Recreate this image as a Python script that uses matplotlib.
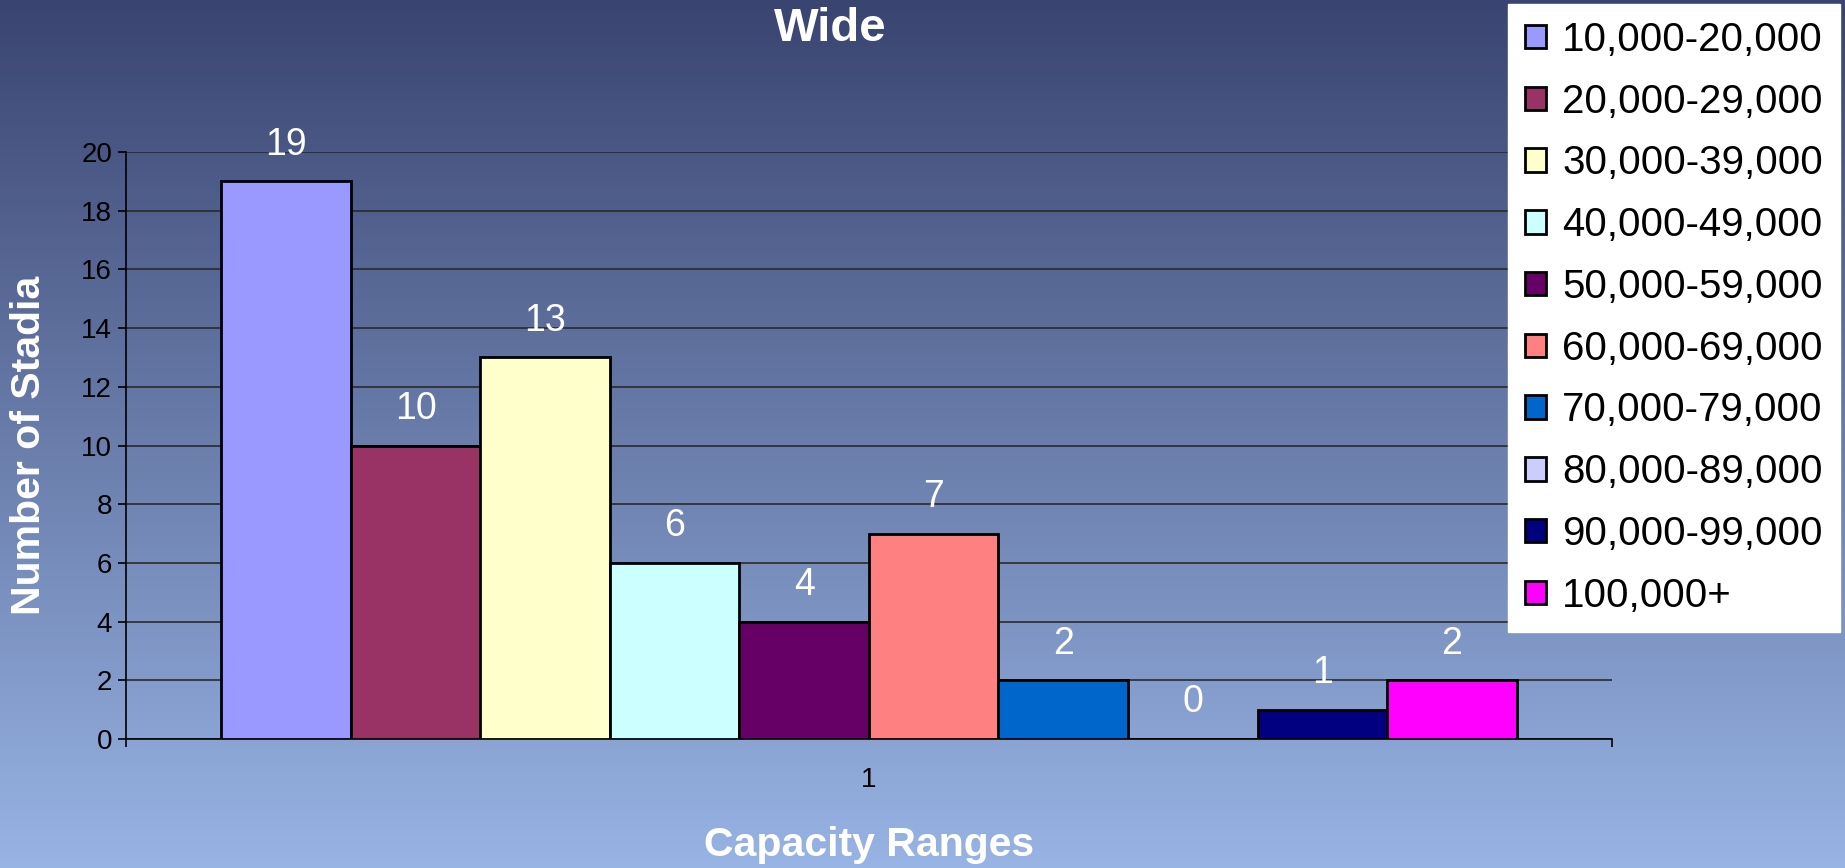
import numpy as np
import matplotlib.pyplot as plt
from matplotlib.colors import LinearSegmentedColormap

plt.rcParams['font.family'] = ['Liberation Sans', 'DejaVu Sans']

ranges = ["10,000-20,000", "20,000-29,000", "30,000-39,000", "40,000-49,000",
          "50,000-59,000", "60,000-69,000", "70,000-79,000", "80,000-89,000",
          "90,000-99,000", "100,000+"]
counts = [19, 10, 13, 6, 4, 7, 2, 0, 1, 2]
colors = ["#9999FF", "#993366", "#FFFFCC", "#CCFFFF", "#660066",
          "#FF8080", "#0066CC", "#CCCCFF", "#000080", "#FF00FF"]

fig = plt.figure(figsize=(18.45, 8.68), dpi=100)

# gradient background
bg = fig.add_axes([0, 0, 1, 1], zorder=-10)
cmap = LinearSegmentedColormap.from_list("bg", ["#98b4e4", "#3a4470"])
grad = np.linspace(0, 1, 256).reshape(-1, 1)
bg.imshow(grad, aspect='auto', cmap=cmap, origin='lower', extent=[0, 1, 0, 1])
bg.axis('off')

ax = fig.add_axes([0.0683, 0.1486, 0.8054, 0.6763])
ax.set_facecolor('none')

w = 0.8715 / len(counts)
xs = 1 + (np.arange(len(counts)) - (len(counts) - 1) / 2) * w
bars = []
for x, c, col, lab in zip(xs, counts, colors, ranges):
    b = ax.bar(x, c, width=w, color=col, edgecolor='black', linewidth=2,
               label=lab, zorder=3)
    bars.append(b)
    ax.annotate(str(c), (x, c), xytext=(0, 26.5), textcoords='offset points',
                ha='center', va='center', color='white', fontsize=27, zorder=4)

ax.set_xlim(0.5, 1.5)
ax.set_ylim(0, 20)
ax.set_yticks(np.arange(0, 21, 2))
ax.yaxis.grid(True, color='#2a2a2a', linewidth=1.2, zorder=0)
ax.set_axisbelow(True)
ax.tick_params(axis='y', labelsize=20, length=6, width=1.2, pad=4, colors='black')
ax.set_xticks([1])
ax.set_xticklabels(['1'])
ax.set_xticks([0.5, 1.5], minor=True)
ax.tick_params(axis='x', which='major', length=0, labelsize=20, pad=20)
ax.tick_params(axis='x', which='minor', length=6, width=1.2)
for s in ['top', 'right']:
    ax.spines[s].set_visible(False)
for s in ['left', 'bottom']:
    ax.spines[s].set_color('black')
    ax.spines[s].set_linewidth(1.2)

fig.text(0.45, 0.967, "Wide", ha='center', va='center', color='white',
         fontsize=34, fontweight='bold')
fig.text(0.0157, 0.487, "Number of Stadia", ha='center', va='center', rotation=90,
         color='white', fontsize=29.5, fontweight='bold')
fig.text(0.4709, 0.0265, "Capacity Ranges", ha='center', va='center',
         color='white', fontsize=29.5, fontweight='bold')

leg = fig.legend(handles=[b[0] for b in bars], labels=ranges, loc='upper right',
                 bbox_to_anchor=(0.9973, 0.9954), bbox_transform=fig.transFigure,
                 fontsize=29, handlelength=0.52, handleheight=0.52,
                 handletextpad=0.4, labelspacing=0.59, borderpad=0.42,
                 borderaxespad=0, fancybox=False, frameon=True)
leg.get_frame().set_facecolor('white')
leg.get_frame().set_edgecolor('white')
leg.get_frame().set_alpha(1)
leg.set_zorder(20)

fig.savefig("out.png", dpi=100)
